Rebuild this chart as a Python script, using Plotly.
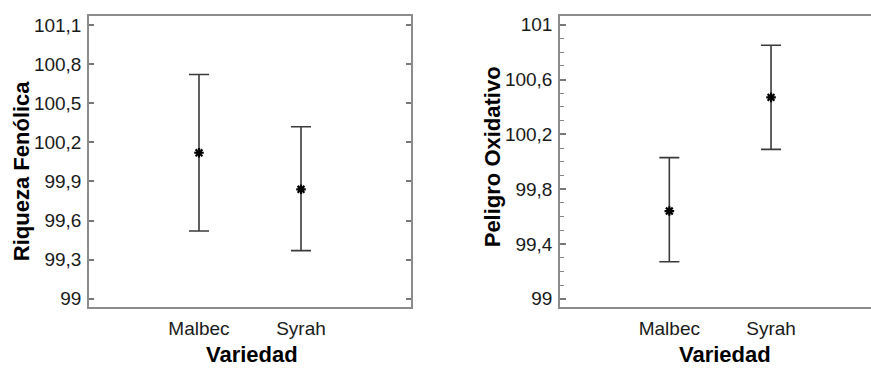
import plotly.graph_objects as go

# ---- data ----
categories = ["Malbec", "Syrah"]
cat_pos = [1, 2]

riqueza_mean = [100.12, 99.84]
riqueza_upper = [100.72, 100.32]
riqueza_lower = [99.52, 99.37]

peligro_mean = [99.64, 100.47]
peligro_upper = [100.03, 100.85]
peligro_lower = [99.27, 100.09]

left_tickvals = [99.0, 99.3, 99.6, 99.9, 100.2, 100.5, 100.8, 101.1]
left_ticktext = ["99", "99,3", "99,6", "99,9", "100,2", "100,5", "100,8", "101,1"]
right_tickvals = [99.0, 99.4, 99.8, 100.2, 100.6, 101.0]
right_ticktext = ["99", "99,4", "99,8", "100,2", "100,6", "101"]

W, H = 871, 369
FONT = "Liberation Sans, Arial, sans-serif"
AX = "#8c8c8c"
TXT = "#1a1a1a"

def px_x(p):
    return p / W

def px_y(p):
    return 1 - p / H

fig = go.Figure()

def add_series(mean, upper, lower, xa, ya):
    fig.add_trace(go.Scatter(
        x=cat_pos, y=mean, mode="markers",
        xaxis=xa, yaxis=ya,
        marker=dict(symbol="asterisk-open", size=8, color="black",
                    line=dict(color="black", width=2.2)),
        error_y=dict(type="data", symmetric=False,
                     array=[u - m for u, m in zip(upper, mean)],
                     arrayminus=[m - l for m, l in zip(mean, lower)],
                     color="#3a3a3a", thickness=1.6, width=10),
        showlegend=False, hoverinfo="skip",
    ))

add_series(riqueza_mean, riqueza_upper, riqueza_lower, "x", "y")
add_series(peligro_mean, peligro_upper, peligro_lower, "x2", "y2")

ydom = [px_y(309), px_y(15)]
tickfont = dict(family=FONT, size=19, color=TXT)

fig.update_layout(
    width=W, height=H,
    margin=dict(l=0, r=0, t=0, b=0),
    paper_bgcolor="white", plot_bgcolor="white",
    separators=",.",
    xaxis=dict(domain=[px_x(89), px_x(411)], range=[-0.078, 3.078],
               tickvals=cat_pos, ticktext=categories, ticks="",
               showline=True, linecolor=AX, linewidth=1.5, mirror=True,
               showgrid=False, zeroline=False, tickfont=tickfont,
               ticklabelstandoff=4),
    yaxis=dict(domain=ydom, range=[98.94, 101.17],
               tickvals=left_tickvals, ticktext=left_ticktext,
               ticks="inside", ticklen=5, tickwidth=1.5, tickcolor="#777",
               showline=True, linecolor=AX, linewidth=1.5, mirror="ticks",
               showgrid=False, zeroline=False, tickfont=tickfont,
               ticklabelstandoff=2),
    xaxis2=dict(domain=[px_x(560), 1.0], range=[-0.075, 2.983],
                anchor="y2",
                tickvals=cat_pos, ticktext=categories, ticks="",
                showline=True, linecolor=AX, linewidth=1.5, mirror=True,
                showgrid=False, zeroline=False, tickfont=tickfont,
                ticklabelstandoff=4),
    yaxis2=dict(domain=ydom, range=[98.942, 101.065], anchor="x2",
                tickvals=right_tickvals, ticktext=right_ticktext,
                ticks="inside", ticklen=6, tickwidth=1.5, tickcolor="#777",
                minor=dict(ticks="inside", dtick=0.1, tick0=99, ticklen=4,
                           tickwidth=1.2, tickcolor="#888", showgrid=False),
                showline=True, linecolor=AX, linewidth=1.5, mirror=False,
                showgrid=False, zeroline=False, tickfont=tickfont,
                ticklabelstandoff=2),
)

titlefont = dict(family=FONT, size=22, color="black")
ann = [
    dict(text="<b>Riqueza Fenólica</b>", x=px_x(21), y=px_y(172), textangle=-90),
    dict(text="<b>Peligro Oxidativo</b>", x=px_x(492), y=px_y(158), textangle=-90),
    dict(text="<b>Variedad</b>", x=px_x(252), y=px_y(357), textangle=0),
    dict(text="<b>Variedad</b>", x=px_x(725), y=px_y(357), textangle=0),
]
for a in ann:
    fig.add_annotation(xref="paper", yref="paper", showarrow=False,
                       xanchor="center", yanchor="middle", font=titlefont, **a)

fig.write_html("out.html",
               config={"displayModeBar": False},
               post_script="document.body.style.margin='0';document.body.style.overflow='hidden';")
